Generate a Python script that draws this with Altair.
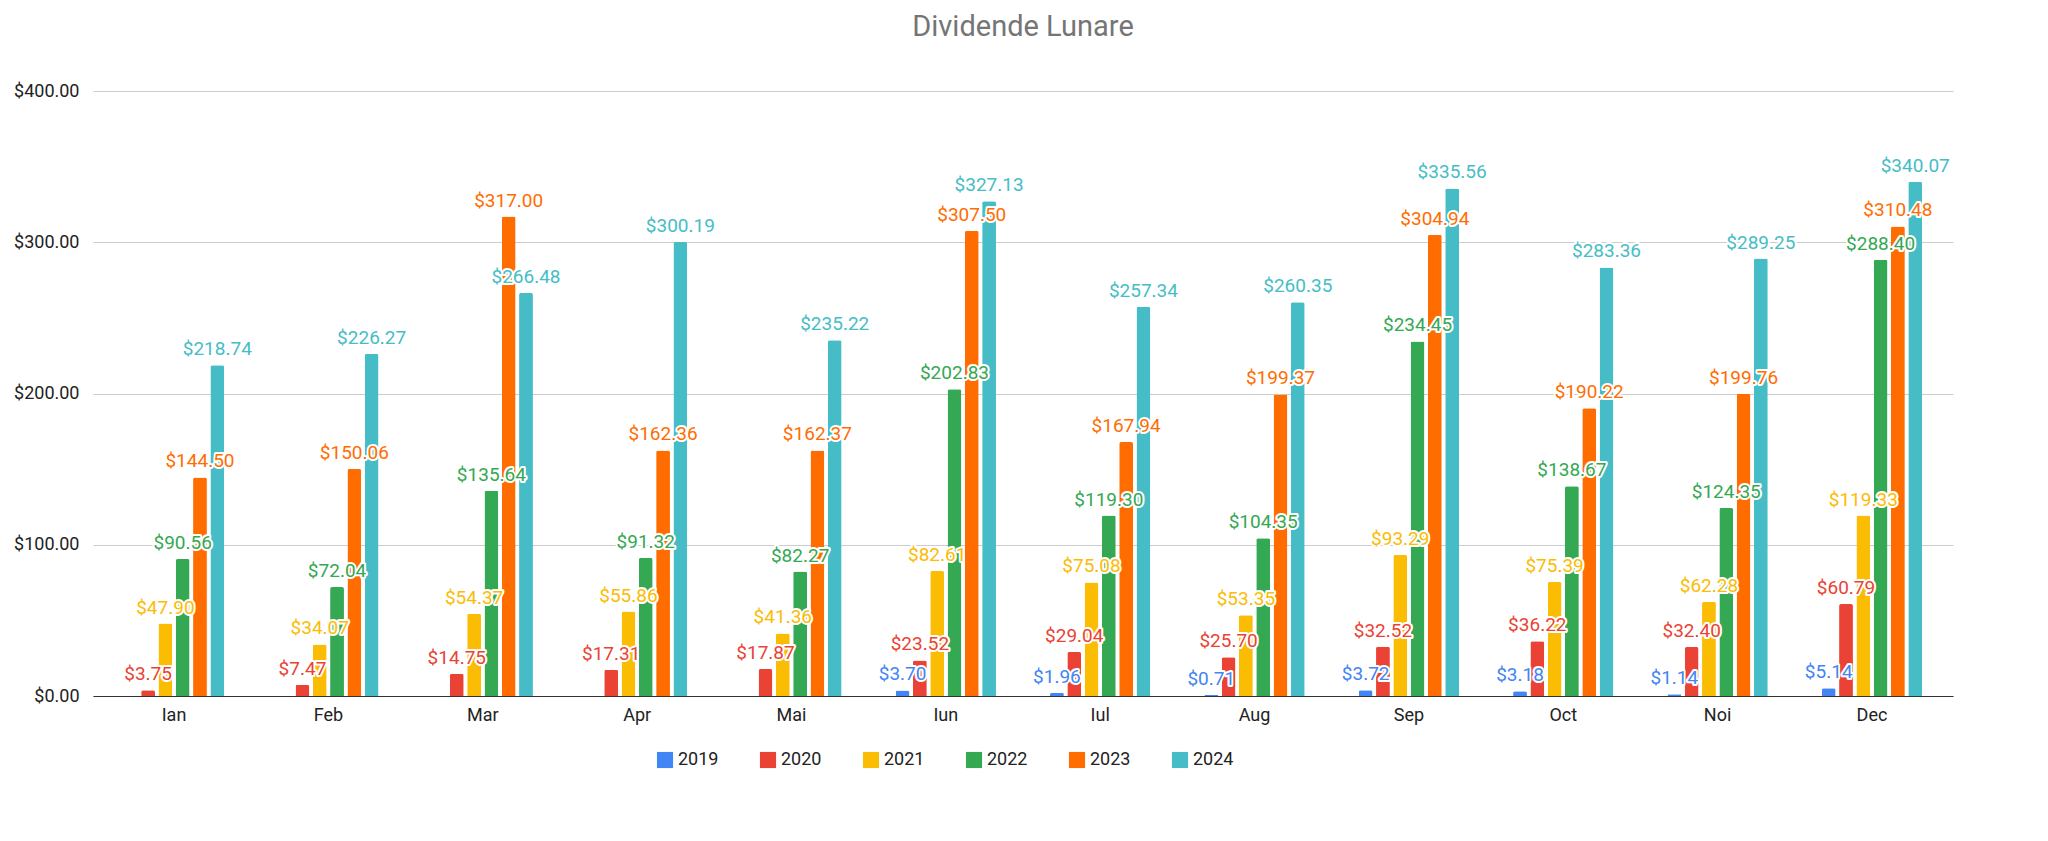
import pandas as pd
import altair as alt

months = ["Ian", "Feb", "Mar", "Apr", "Mai", "Iun", "Iul", "Aug", "Sep", "Oct", "Noi", "Dec"]
years = ["2019", "2020", "2021", "2022", "2023", "2024"]

v2019 = [0, 0, 0, 0, 0, 3.70, 1.96, 0.71, 3.72, 3.18, 1.14, 5.14]
v2020 = [3.75, 7.47, 14.75, 17.31, 17.87, 23.52, 29.04, 25.70, 32.52, 36.22, 32.40, 60.79]
v2021 = [47.90, 34.07, 54.37, 55.86, 41.36, 82.61, 75.08, 53.35, 93.29, 75.39, 62.28, 119.33]
v2022 = [90.56, 72.04, 135.64, 91.32, 82.27, 202.83, 119.30, 104.35, 234.45, 138.67, 124.35, 288.40]
v2023 = [144.50, 150.06, 317.00, 162.36, 162.37, 307.50, 167.94, 199.37, 304.94, 190.22, 199.76, 310.48]
v2024 = [218.74, 226.27, 266.48, 300.19, 235.22, 327.13, 257.34, 260.35, 335.56, 283.36, 289.25, 340.07]

colors = ["#4285F4", "#EA4335", "#FBBC04", "#34A853", "#FF6D01", "#46BDC6"]

rows = []
for y, vals in zip(years, [v2019, v2020, v2021, v2022, v2023, v2024]):
    for m, v in zip(months, vals):
        rows.append({"Luna": m, "An": y, "Valoare": v})
df = pd.DataFrame(rows)

x = alt.X("Luna:N", sort=months, title=None,
          scale=alt.Scale(paddingInner=0.35, paddingOuter=0.2),
          axis=alt.Axis(labelAngle=0, labelFontSize=18, labelColor="#222", ticks=False,
                        domainColor="#333", labelPadding=10, labelFont="Roboto"))
xo = alt.XOffset("An:N", sort=years, scale=alt.Scale(paddingInner=0.2))
col = alt.Color("An:N", sort=years, scale=alt.Scale(domain=years, range=colors),
                legend=alt.Legend(orient="none", direction="horizontal", legendX=563, legendY=660,
                                  title=None, symbolType="square",
                                  symbolSize=260, labelFontSize=18, columnPadding=40,
                                  labelFont="Roboto", labelColor="#222", symbolStrokeWidth=0))

base = alt.Chart(df).encode(x=x, xOffset=xo)

bars = base.mark_bar(cornerRadiusTopLeft=2, cornerRadiusTopRight=2).encode(
    y=alt.Y("Valoare:Q", title=None, scale=alt.Scale(domain=[0, 400]),
            axis=alt.Axis(format="$,.2f", values=[0, 100, 200, 300, 400], labelFontSize=18,
                          labelColor="#222", gridColor="#ccc", domain=False, ticks=False,
                          labelPadding=14, labelFont="Roboto")),
    color=col,
)

lbl = base.transform_filter("datum.Valoare > 0")
halo = lbl.mark_text(dy=-16, fontSize=19, font="Roboto", stroke="white", strokeWidth=4,
                     strokeJoin="round").encode(
    y="Valoare:Q", text=alt.Text("Valoare:Q", format="$,.2f"))
text = lbl.mark_text(dy=-16, fontSize=19, font="Roboto").encode(
    y="Valoare:Q", text=alt.Text("Valoare:Q", format="$,.2f"),
    color=alt.Color("An:N", sort=years, scale=alt.Scale(domain=years, range=colors), legend=None))

chart = alt.layer(bars, halo, text).properties(
    width=1860, height=605,
    title=alt.TitleParams("Dividende Lunare", fontSize=29, color="#757575",
                          fontWeight="normal", font="Roboto", offset=40),
).configure_view(stroke=None)

chart.save("out.html", embed_options={"renderer": "svg", "actions": False})
